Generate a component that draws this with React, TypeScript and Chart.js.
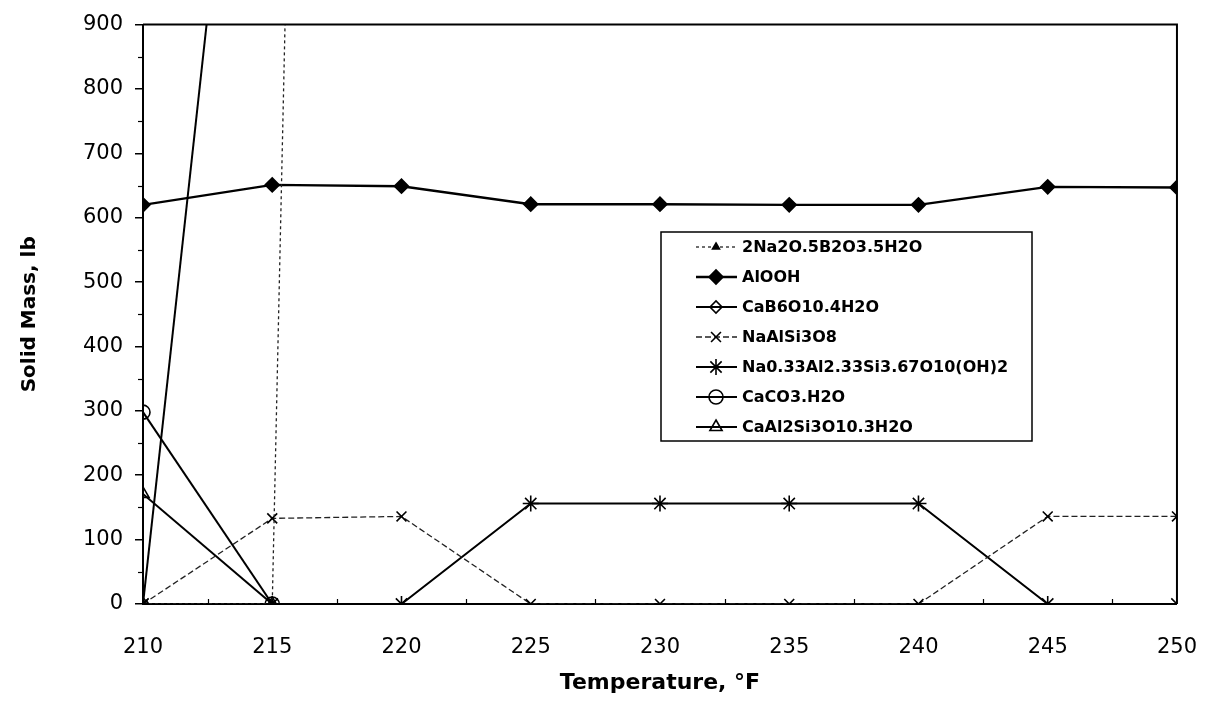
import React, { useEffect, useRef } from "react";
import { Chart, registerables } from "chart.js";
import { drawPoint } from "chart.js/helpers";

Chart.register(...registerables);

// Temperature steps, °F
const temperatures = [210, 215, 220, 225, 230, 235, 240, 245, 250];

// Solid mass of each mineral phase, lb (null = phase not present)
const borax = [0, 0, 9100, null, null, null, null, null, null];
const alooh = [620, 651, 649, 621, 621, 620, 620, 648, 647];
const cab6 = [0, 1830, null, null, null, null, null, null, null];
const albite = [0, 133, 136, 0, 0, 0, 0, 136, 136];
const beidellite = [0, 0, 0, 156, 156, 156, 156, 0, 0];
const caco3 = [298, 0, null, null, null, null, null, null, null];
const caal2 = [171, 0, null, null, null, null, null, null, null];

const yTicks = [0, 100, 200, 300, 400, 500, 600, 700, 800, 900];

const toPoints = (vals: (number | null)[]) =>
  temperatures.map((t, i) => ({ x: t, y: vals[i] }));

const FONT = "'DejaVu Sans', 'Liberation Sans', Arial, sans-serif";

// Frame, minor ticks and the boxed legend inside the plot area
const decorations = {
  id: "decorations",
  afterDatasetsDraw(chart: any) {
    const { ctx, chartArea, scales } = chart;
    const { left, right, top, bottom } = chartArea;
    const xs = scales.x;
    const ys = scales.y;
    ctx.save();
    ctx.strokeStyle = "#000";

    // top and right frame lines
    ctx.lineWidth = 2;
    ctx.beginPath();
    ctx.moveTo(left, top);
    ctx.lineTo(right, top);
    ctx.lineTo(right, bottom);
    ctx.stroke();

    // minor y ticks (outside)
    ctx.lineWidth = 1.2;
    for (let v = 50; v < 900; v += 100) {
      const y = Math.round(ys.getPixelForValue(v)) + 0.5;
      ctx.beginPath();
      ctx.moveTo(left - 5, y);
      ctx.lineTo(left, y);
      ctx.stroke();
    }
    // x ticks between categories (inside)
    for (let t = 212.5; t < 250; t += 5) {
      const x = Math.round(xs.getPixelForValue(t)) + 0.5;
      ctx.beginPath();
      ctx.moveTo(x, bottom);
      ctx.lineTo(x, bottom - 5);
      ctx.stroke();
    }

    // legend box
    const bx = 661, by = 232, bw = 371, bh = 209;
    ctx.fillStyle = "#fff";
    ctx.fillRect(bx, by, bw, bh);
    ctx.lineWidth = 1.5;
    ctx.strokeRect(bx, by, bw, bh);

    const rowH = 30;
    chart.data.datasets.forEach((ds: any, i: number) => {
      const cy = by + 15 + i * rowH;
      ctx.save();
      ctx.strokeStyle = ds.borderColor;
      ctx.lineWidth = ds.borderWidth;
      ctx.setLineDash(ds.borderDash || []);
      ctx.beginPath();
      ctx.moveTo(696, cy);
      ctx.lineTo(737, cy);
      ctx.stroke();
      ctx.setLineDash([]);
      ctx.fillStyle = ds.pointBackgroundColor;
      ctx.strokeStyle = ds.pointBorderColor;
      ctx.lineWidth = ds.pointBorderWidth;
      drawPoint(
        ctx,
        {
          pointStyle: ds.pointStyle,
          radius: ds.pointRadius,
          rotation: 0,
          borderWidth: ds.pointBorderWidth,
        },
        716,
        cy
      );
      ctx.restore();
      ctx.fillStyle = "#000";
      ctx.font = `bold 16px ${FONT}`;
      ctx.textBaseline = "middle";
      ctx.textAlign = "left";
      ctx.fillText(ds.label, 742, cy + 1);
    });
    ctx.restore();
  },
};

export default function App() {
  const canvasRef = useRef<HTMLCanvasElement | null>(null);

  useEffect(() => {
    const canvas = canvasRef.current;
    if (!canvas) return;

    const series = (
      label: string,
      vals: (number | null)[],
      pointStyle: string,
      radius: number,
      filled: boolean,
      width: number,
      dash: number[] = [],
      color = "#000"
    ) => ({
      label,
      data: toPoints(vals),
      borderColor: color,
      borderWidth: width,
      borderDash: dash,
      pointStyle,
      pointRadius: radius,
      pointBorderWidth: 1.6,
      pointBorderColor: "#000",
      pointBackgroundColor: filled ? "#000" : "rgba(255,255,255,0)",
      spanGaps: false,
      tension: 0,
    });

    const chart = new Chart(canvas, {
      type: "line",
      data: {
        datasets: [
          series("2Na2O.5B2O3.5H2O", borax, "triangle", 4, true, 1.3, [3, 3], "#222"),
          series("AlOOH", alooh, "rectRot", 7, true, 2.4),
          series("CaB6O10.4H2O", cab6, "rectRot", 6, false, 2),
          series("NaAlSi3O8", albite, "crossRot", 7, false, 1.3, [6, 3], "#222"),
          series("Na0.33Al2.33Si3.67O10(OH)2", beidellite, "star", 8, false, 2),
          series("CaCO3.H2O", caco3, "circle", 7, false, 2),
          series("CaAl2Si3O10.3H2O", caal2, "triangle", 7, false, 2),
        ] as any,
      },
      options: {
        responsive: false,
        animation: false,
        events: [],
        layout: { padding: { top: 19, right: 31, left: 0, bottom: 0 } },
        plugins: {
          legend: { display: false },
          tooltip: { enabled: false },
        },
        scales: {
          x: {
            type: "linear",
            min: 210,
            max: 250,
            afterFit: (s: any) => {
              s.height = 110;
            },
            afterBuildTicks: (s: any) => {
              s.ticks = temperatures.map((v) => ({ value: v }));
            },
            ticks: {
              color: "#000",
              font: { family: FONT, size: 21 },
              padding: 31,
              maxRotation: 0,
            },
            grid: { drawOnChartArea: false, drawTicks: false },
            border: { display: true, color: "#000", width: 2 },
            title: {
              display: true,
              text: "Temperature, °F",
              color: "#000",
              font: { family: FONT, size: 22, weight: "bold" },
              padding: { top: 0, bottom: 18 },
            },
          },
          y: {
            type: "linear",
            min: 0,
            max: 900,
            afterFit: (s: any) => {
              s.width = 143;
            },
            afterBuildTicks: (s: any) => {
              s.ticks = yTicks.map((v) => ({ value: v }));
            },
            ticks: {
              color: "#000",
              font: { family: FONT, size: 21 },
              padding: 12,
            },
            grid: {
              drawOnChartArea: false,
              drawTicks: true,
              tickLength: 8,
              color: "#000",
              lineWidth: 1.5,
            },
            border: { display: true, color: "#000", width: 2 },
            title: {
              display: true,
              text: "Solid Mass, lb",
              color: "#000",
              font: { family: FONT, size: 20, weight: "bold" },
              padding: { top: 18, bottom: 0 },
            },
          },
        },
      },
      plugins: [decorations],
    });

    return () => chart.destroy();
  }, []);

  return (
    <div
      style={{
        position: "absolute",
        left: 0,
        top: 0,
        width: 1228,
        height: 714,
        background: "#fff",
      }}
    >
      <canvas ref={canvasRef} width={1228} height={714} />
    </div>
  );
}
